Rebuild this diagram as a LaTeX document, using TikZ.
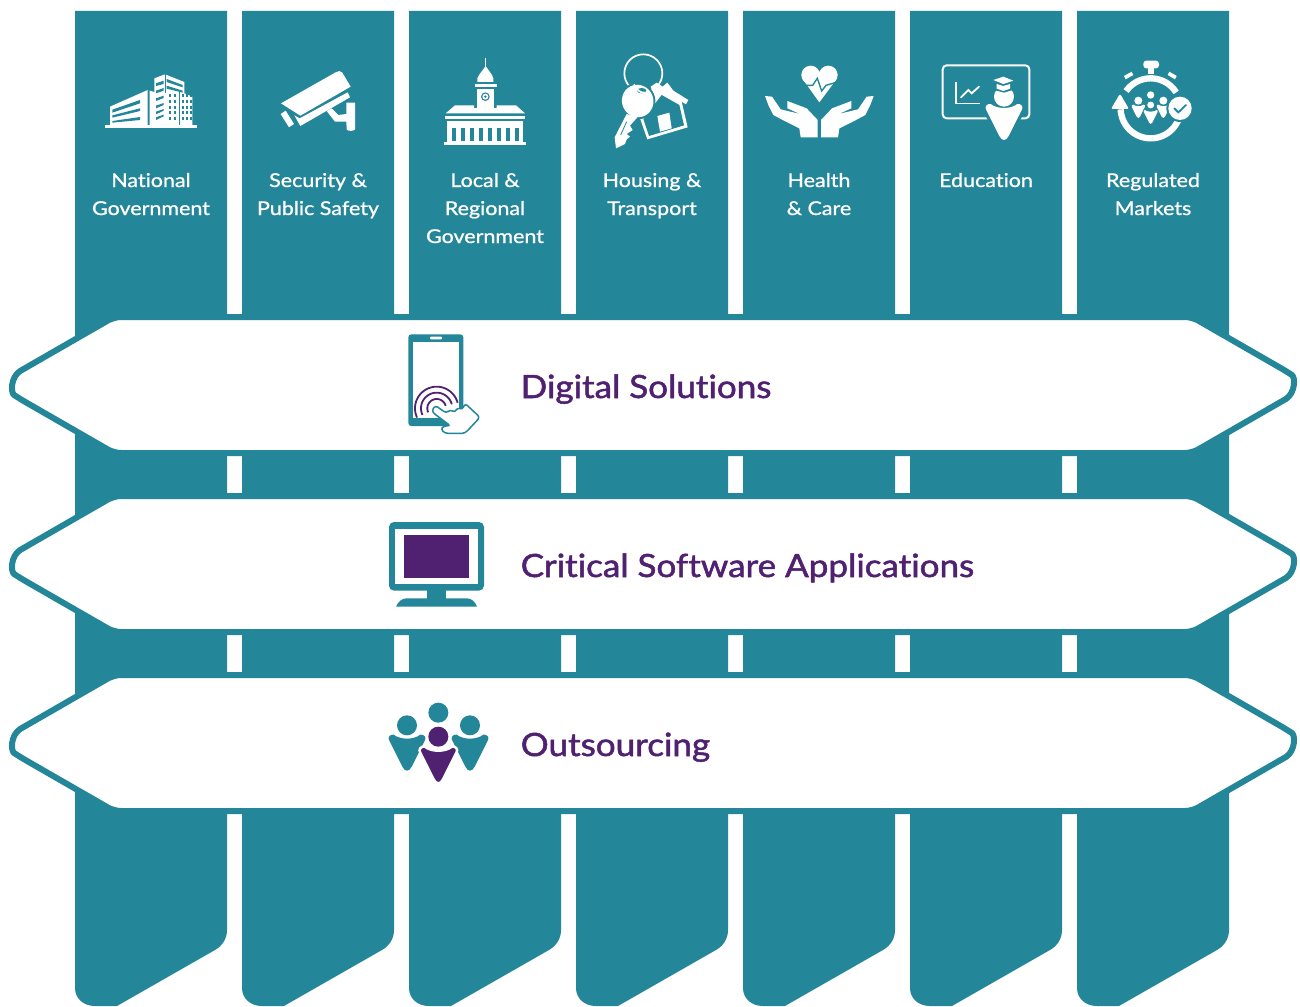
\documentclass[tikz,border=0pt]{standalone}
\usepackage{fontspec}
\setmainfont{Lato}
\newfontfamily\headfont[FakeBold=1.6,FakeStretch=1.095,Ligatures=NoCommon]{Lato}
\newfontfamily\labelfont[FakeBold=1.0,FakeStretch=1.13,Ligatures=NoCommon]{Lato}
\definecolor{teal1}{HTML}{248699}
\definecolor{purp1}{HTML}{4F2170}
\newcommand\personbody[4]{\path[shift={(#1,#2)},scale=#3,#4] (-53,10) .. controls (-60,0) and (-50,-10) .. (-40,-8) .. controls (-20,8) and (20,8) .. (40,-8) .. controls (50,-10) and (60,0) .. (53,10) -- (14,88) .. controls (6,104) and (-6,104) .. (-14,88) -- cycle;}
\newcommand\bannerband[1]{\path[shift={(0,#1)},bandstyle]
 (20,-13.9) [rounded corners=7pt] -- (114,-68) -- (1192,-68) -- (1286,-13.9) [rounded corners=0pt] .. controls (1295.4,-7.7) and (1295.4,7.7) .. (1286,13.9) [rounded corners=7pt] -- (1192,68) -- (114,68) -- (20,13.9) [rounded corners=0pt] .. controls (10.6,7.7) and (10.6,-7.7) .. (20,-13.9) -- cycle;}
\tikzset{
 bandstyle/.style={fill=white,draw=teal1,line width=6pt,line join=round},
 collabel/.style={text=white,font=\labelfont\fontsize{19}{28}\selectfont,align=center,anchor=base,inner sep=0pt},
 headlabel/.style={text=purp1,font=\headfont\fontsize{32}{36}\selectfont,anchor=base west,inner sep=0pt},
 icona/.style={shift={(75,40)},scale=1/3},
 iconb/.style={shift={(410,40)},scale=1/3},
 iconc/.style={shift={(740,40)},scale=1/3},
 icond/.style={shift={(0,300)},scale=1/3},
 icone/.style={shift={(370,510)},scale=1/3},
}
\begin{document}
\begin{tikzpicture}[x=1pt,y=-1pt]
\useasboundingbox (0,0) rectangle (1300,1006);
\fill[white] (0,0) rectangle (1300,1006);
% columns
\foreach \cx in {75,242,409,576,743,910,1077}{
 \fill[teal1,shift={(\cx,0)}] (0,11) -- (152,11) -- (152,930) .. controls (152,939) and (147,946) .. (140,950) -- (42,1006) -- (20,1006) .. controls (8,1006) and (0,998) .. (0,988) -- cycle;
}
% bands
\bannerband{385}
\bannerband{564}
\bannerband{743}
% column labels
\node[collabel] (l1) at (151,215) {National\\Government};
\node[collabel] (l2) at (318,215) {Security \&\\Public Safety};
\node[collabel] (l3) at (485,243) {Local \&\\Regional\\Government};
\node[collabel] (l4) at (652,215) {Housing \&\\Transport};
\node[collabel] (l5) at (819,215) {Health\\\& Care};
\node[collabel] (l6) at (986,187) {Education};
\node[collabel] (l7) at (1153,215) {Regulated\\Markets};
% band labels
\node[headlabel] (h1) at (520.5,398) {Digital Solutions};
\node[headlabel] (h2) at (520.5,577) {Critical Software Applications};
\node[headlabel] (h3) at (520.5,756) {Outsourcing};
% ---- building
\begin{scope}[icona]
 \fill[white] (89,255) rectangle (366,265);
 \fill[white] (105,200) -- (218,150) -- (218,256) -- (105,256) -- cycle;
 \fill[teal1] (112,209) -- (195,180) -- (195,190) -- (112,218) -- cycle;
 \fill[teal1] (112,226) -- (195,205) -- (195,213) -- (112,233) -- cycle;
 \fill[teal1] (112,243) -- (195,231) -- (195,240) -- (112,248) -- cycle;
 \fill[white] (224,152) -- (238,156) -- (238,115) -- (270,103) -- (328,126) -- (328,160) -- (352,170) -- (352,256) -- (224,256) -- cycle;
 \foreach \yy/\dd in {130/0,152/-2,175/-3,197/-4,215/-5,232/-5}{
  \fill[teal1] (243,\yy) -- (266,\yy-8) -- (266,\yy+\dd+2) -- (243,\yy+8) -- cycle;
 }
 \fill[teal1] (275,117) -- (323,135) -- (323,142) -- (275,126) -- cycle;
 \fill[teal1] (275,137) -- (323,152) -- (323,158) -- (275,146) -- cycle;
 \foreach \xx in {282,296,320,333,345}{
  \foreach \yy in {162,180,197,213,231}{
   \fill[teal1] (\xx,\yy) rectangle ++(7,10);
  }
 }
 \fill[teal1] (312,150) rectangle (315,256);
 \fill[teal1] (270,100) rectangle (273,160);
\end{scope}
% ---- camera
\begin{scope}[icona]
 \fill[white] (618,190) -- (782,97) .. controls (790,92) and (797,92) .. (802,98) -- (827,140) -- (676,227) -- cycle;
 \fill[white] (658,226) -- (674,235) -- (818,157) -- (825,172) -- (676,258) -- cycle;
 \fill[white] (617,222) -- (632,212) -- (657,252) -- (642,262) -- cycle;
 \fill[white] (755,213) -- (770,205) -- (790,225) -- (814,222) -- (814,188) -- (840,188) -- (840,268) .. controls (840,272) and (818,276) .. (815,268) -- (814,245) -- (780,245) -- cycle;
\end{scope}
% ---- town hall
\begin{scope}[iconb]
 \draw[white,line width=1pt] (227,55) -- (227,82);
 \fill[white] (227,78) -- (207,105) .. controls (202,112) and (200,120) .. (202,126) -- (250,126) .. controls (252,120) and (250,112) .. (246,105) -- cycle;
 \fill[white] (195,132) rectangle (261,142);
 \fill[white] (200,148) rectangle (253,205);
 \fill[white] (192,205) rectangle (260,212);
 \fill[teal1] (226,170) circle (13);
 \fill[white] (226,170) circle (9);
 \fill[teal1] (226,170) circle (4);
 \fill[white] (107,220) -- (135,196) -- (192,196) -- (192,212) -- (260,212) -- (260,196) -- (318,196) -- (345,220) -- cycle;
 \fill[white] (105,227) rectangle (345,237);
 \fill[white] (110,243) rectangle (340,305);
 \foreach \xx in {125,152,180,207,234,261,288,315}{
  \fill[teal1] (\xx,265) rectangle ++(13,39);
 }
 \fill[white] (102,305) rectangle (348,315);
\end{scope}
% ---- keys and house
\begin{scope}[iconb]
 \draw[white,line width=1.7pt] (700,100) circle (57);
 \fill[white] (722,140) -- (740,128) -- (758,140) -- (772,128) -- (790,152) -- (835,180) -- (828,193) -- (815,185) -- (833,262) -- (712,298) -- (690,235) -- (700,225) -- (735,175) -- cycle;
 \fill[teal1] (700,237) -- (755,165) -- (808,195) -- (822,256) -- (717,288) -- cycle;
 \fill[white] (742,228) -- (778,218) -- (785,265) -- (750,275) -- cycle;
 \fill[teal1,rotate around={25:(683,183)}] (683,183) ellipse (53 and 55);
 \fill[white,rotate around={25:(683,183)}] (683,183) ellipse (47 and 49);
 \fill[white] (650,222) -- (614,292) -- (618,325) -- (645,312) -- (650,298) -- (660,290) -- (650,282) -- (668,270) -- (660,257) -- (682,232) -- cycle;
 \draw[teal1,line width=0.8pt] (632,285) -- (650,245);
 \fill[teal1] (695,152) ellipse (14 and 8);
 \draw[white,line width=1.7pt] (672,133) .. controls (680,150) and (692,160) .. (705,158);
\end{scope}
% ---- hands and heart
\begin{scope}[iconc]
 \fill[white] (212,105) circle (28);
 \fill[white] (265,105) circle (28);
 \fill[white] (190,120) -- (238,187) -- (288,120) -- (238,95) -- cycle;
 \draw[teal1,line width=1.4pt] (190,136) -- (218,136) -- (232,115) -- (245,153) -- (258,136) -- (292,126);
 \foreach \fl in {1,-1}{
  \fill[white,shift={(238,0)},xscale=\fl] (-163,168) -- (-142,170) -- (-116,208) -- (-58,222) -- (-96,205) -- (-96,183) -- (-38,205) -- (-5,240) -- (-5,292) -- (-56,292) -- (-60,265) -- (-110,240) -- (-138,225) -- (-153,195) -- cycle;
 }
\end{scope}
% ---- education
\begin{scope}[iconc]
 \draw[white,line width=2pt,rounded corners=4pt] (608,76) rectangle (868,235);
 \draw[white,line width=1.5pt] (648,125) -- (648,190) -- (720,190);
 \draw[white,line width=1.8pt,line cap=round] (663,172) -- (685,150) -- (695,160) -- (717,140);
 \personbody{792}{200}{1.1}{fill=teal1,draw=teal1,line width=3pt}
 \personbody{792}{200}{1.0}{fill=white}
 \fill[white] (792,170) circle (30);
 \fill[teal1] (755,115) -- (790,105) -- (825,120) -- (825,148) -- (792,158) -- (755,148) -- cycle;
 \fill[white] (760,120) -- (790,110) -- (820,122) -- (790,132) -- cycle;
 \fill[white] (770,132) -- (790,138) -- (810,132) -- (810,146) -- (790,153) -- (770,146) -- cycle;
\end{scope}
% ---- stopwatch
\begin{scope}[iconc]
 \fill[white,rounded corners=3pt] (1210,62) rectangle (1257,85);
 \fill[white] (1225,85) rectangle (1243,102);
 \fill[white] (1152,108) -- (1175,95) -- (1180,105) -- (1157,118) -- cycle;
 \fill[white] (1310,108) -- (1288,95) -- (1283,105) -- (1305,118) -- cycle;
 \draw[white,line width=6.3pt] plot[domain=215:328,samples=30] ({1232+90*cos(\x)},{205+90*sin(\x)});
 \draw[white,line width=6.3pt] plot[domain=20:178,samples=40] ({1232+90*cos(\x)},{205+90*sin(\x)});
 \fill[white,rounded corners=2pt] (1113,207) -- (1140,161) -- (1167,207) -- cycle;
 \foreach \px/\py in {1195/197,1270/197}{
  \fill[white] (\px,\py-15) circle (12);
  \personbody{\px}{\py}{0.37}{fill=white}
 }
 \fill[white] (1232,165) circle (11);
 \personbody{1232}{212}{0.42}{fill=white,draw=teal1,line width=0.8pt}
 \fill[white,draw=teal1,line width=0.8pt] (1232,195) circle (12);
 \fill[teal1] (1320,205) circle (41);
 \fill[white] (1320,205) circle (35);
 \draw[teal1,line width=1.8pt,line cap=round] (1303,205) -- (1315,217) -- (1338,195);
\end{scope}
% ---- phone
\begin{scope}[icond]
 \fill[teal1,rounded corners=3pt] (1225,103) rectangle (1390,378);
 \fill[white] (1238,125) rectangle (1378,355);
 \fill[white,rounded corners=1pt] (1290,110) rectangle (1326,118);
 \foreach \rr in {28,47,65}{
  \draw[purp1,line width=1.8pt] plot[domain=155:345,samples=40] ({1310+\rr*cos(\x)},{325+\rr*sin(\x)});
 }
 \draw[teal1,fill=white,line width=1.5pt,line join=round,rounded corners=3pt] (1305,316) -- (1340,340) -- (1350,328) -- (1365,338) -- (1372,322) -- (1387,330) -- (1395,310) -- (1440,352) -- (1395,400) -- (1335,400) -- (1322,388) -- (1332,377) -- (1352,378) -- (1295,335) -- cycle;
\end{scope}
% ---- monitor
\begin{scope}[icone]
 \fill[teal1,rounded corners=5pt] (57,36) rectangle (342,242);
 \fill[white] (76,56) rectangle (323,222);
 \fill[purp1] (102,74) rectangle (297,203);
 \fill[teal1] (170,240) rectangle (229,267);
 \fill[teal1] (78,290) .. controls (85,275) and (95,265) .. (110,265) -- (290,265) .. controls (305,265) and (315,275) .. (321,290) -- cycle;
\end{scope}
% ---- people
\begin{scope}[icone]
 \fill[teal1] (205,608) circle (30);
 \fill[teal1] (111,646) circle (30);
 \fill[teal1] (300,646) circle (30);
 \personbody{111}{682}{1}{fill=teal1}
 \personbody{300}{682}{1}{fill=teal1}
 \personbody{205}{718}{1.02}{fill=purp1,draw=white,line width=2.5pt}
 \fill[white] (205,680) circle (35);
 \fill[purp1] (205,680) circle (30);
\end{scope}
\end{tikzpicture}
\end{document}
